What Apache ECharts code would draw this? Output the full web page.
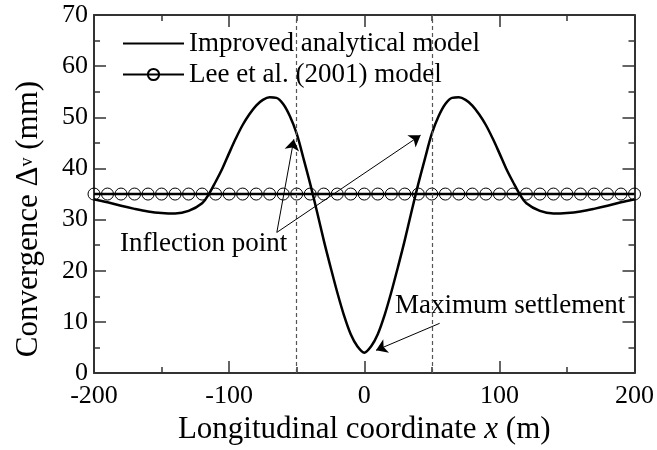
<!DOCTYPE html>
<html>
<head>
<meta charset="utf-8">
<script src="https://cdn.jsdelivr.net/npm/echarts@6/dist/echarts.min.js"></script>
<style>
html,body{margin:0;padding:0;background:#fff;}
#chart{width:657px;height:450px;}
</style>
</head>
<body>
<div id="chart"></div>
<script>
// ---- data ----
const xImproved = [-200,-190,-180,-170,-160,-150,-140,-130,-120,-115,-110,-105,-100,-95,-90,-85,-80,-75,-70,-65,-60,-55,-50,-45,-40,-35,-30,-25,-20,-15,-10,-5,0,
  5,10,15,20,25,30,35,40,45,50,55,60,65,70,75,80,85,90,95,100,105,110,115,120,130,140,150,160,170,180,190,200];
const yImproved = [34.0,33.4,32.7,32.1,31.6,31.3,31.2,31.7,33.2,35.0,37.4,40.0,43.0,45.9,48.5,50.6,52.3,53.4,53.9,53.8,52.6,50.2,46.8,42.0,37.0,31.6,26.0,20.8,15.8,11.3,7.6,5.2,4.0,
  5.2,7.6,11.3,15.8,20.8,26.0,31.6,37.0,42.0,46.8,50.2,52.6,53.8,53.9,53.4,52.3,50.6,48.5,45.9,43.0,40.0,37.4,35.0,33.2,31.7,31.2,31.3,31.6,32.1,32.7,33.4,34.0];
const xLee = [-200,-190,-180,-170,-160,-150,-140,-130,-120,-110,-100,-90,-80,-70,-60,-50,-40,-30,-20,-10,0,
  10,20,30,40,50,60,70,80,90,100,110,120,130,140,150,160,170,180,190,200];
const yLee = [35,35,35,35,35,35,35,35,35,35,35,35,35,35,35,35,35,35,35,35,35,
  35,35,35,35,35,35,35,35,35,35,35,35,35,35,35,35,35,35,35,35];
const seriesNames = ['Improved analytical model', 'Lee et al. (2001) model'];
const xTicks = {min: -200, max: 200, interval: 100};
const yTicks = {min: 0, max: 70, interval: 10};
const inflectionX = [-50, 50];

const FONT = '"Liberation Serif","Times New Roman",Times,serif';
const AX = '#333';

function pairs(xs, ys){ return xs.map((x,i)=>[x, ys[i]]); }

function xAx(pos, showLabel){
  return {
    type: 'value', position: pos, min: xTicks.min, max: xTicks.max, interval: xTicks.interval,
    axisLine: {show: true, onZero: false, lineStyle: {color: AX, width: 2}},
    axisTick: {show: true, inside: true, length: 12, lineStyle: {color: AX, width: 1.5}},
    minorTick: {show: true, splitNumber: 2, length: 6, lineStyle: {color: AX, width: 1.5}},
    splitLine: {show: false}, minorSplitLine: {show: false},
    axisLabel: {show: showLabel, fontSize: 26, fontFamily: FONT, color: '#000', margin: 10},
    name: showLabel ? '{a|Longitudinal coordinate }{i|x}{a| (m)}' : '',
    nameLocation: 'middle', nameGap: 39,
    nameTextStyle: {rich: {
      a: {fontSize: 31, fontFamily: FONT, color: '#000'},
      i: {fontSize: 31, fontFamily: FONT, color: '#000', fontStyle: 'italic'}
    }}
  };
}
function yAx(pos, showLabel){
  return {
    type: 'value', position: pos, min: yTicks.min, max: yTicks.max, interval: yTicks.interval,
    axisLine: {show: true, onZero: false, lineStyle: {color: AX, width: 2}},
    axisTick: {show: true, inside: true, length: 12, lineStyle: {color: AX, width: 1.5}},
    minorTick: {show: true, splitNumber: 2, length: 6, lineStyle: {color: AX, width: 1.5}},
    splitLine: {show: false}, minorSplitLine: {show: false},
    axisLabel: {show: showLabel, fontSize: 26, fontFamily: FONT, color: '#000', margin: 6,
      padding: [4, 0, 0, 0]}
  };
}

const chart = echarts.init(document.getElementById('chart'), null, {renderer: 'canvas'});
const dashStyle = {color: '#555', width: 1.2, type: [4, 3]};
const arrowStyle = {color: '#000', width: 1, type: 'solid'};
chart.setOption({
  animation: false,
  backgroundColor: '#fff',
  grid: {left: 94, right: 22, top: 15, bottom: 73},
  xAxis: [xAx('bottom', true), xAx('top', false)],
  yAxis: [yAx('left', true), yAx('right', false)],
  legend: {
    left: 122, top: 30, orient: 'vertical', padding: 0,
    itemWidth: 61, itemHeight: 14, itemGap: 4,
    textStyle: {fontSize: 27, fontFamily: FONT, color: '#000', lineHeight: 27},
    data: [
      {name: seriesNames[0], itemStyle: {color: 'rgba(0,0,0,0)', borderWidth: 0, opacity: 0}},
      {name: seriesNames[1]}
    ]
  },
  series: [
    {
      name: seriesNames[0], type: 'line', smooth: 0.35, symbol: 'none',
      lineStyle: {color: '#000', width: 2.5}, itemStyle: {color: '#000'},
      data: pairs(xImproved, yImproved), z: 3
    },
    {
      name: seriesNames[1], type: 'line', symbol: 'circle', symbolSize: 12,
      lineStyle: {color: '#000', width: 2.5},
      itemStyle: {color: 'rgba(255,255,255,0)', borderColor: '#000', borderWidth: 1},
      data: pairs(xLee, yLee), z: 2,
      markLine: {
        silent: true, animation: false,
        symbol: ['none', 'none'],
        label: {show: false},
        data: [
          {xAxis: inflectionX[0], lineStyle: dashStyle},
          {xAxis: inflectionX[1], lineStyle: dashStyle},
          [{coord: [-64.7, 27.5], symbol: 'none', lineStyle: arrowStyle},
           {coord: [-52.1, 45.7], symbol: 'arrow', symbolSize: 11}],
          [{coord: [-64.7, 27.5], symbol: 'none', lineStyle: arrowStyle},
           {coord: [41.7, 46.5], symbol: 'arrow', symbolSize: 11}],
          [{coord: [55.8, 9.73], symbol: 'none', lineStyle: arrowStyle},
           {coord: [8.7, 4.45], symbol: 'arrow', symbolSize: 11}]
        ]
      }
    }
  ],
  graphic: [
    {type: 'text', x: 29, y: 219, rotation: Math.PI / 2, silent: true,
     style: {text: '{a|Convergence Δ}{s|v}{a| (mm)}', align: 'center', verticalAlign: 'middle',
       rich: {a: {fontSize: 31, fontFamily: FONT, fill: '#000'}, s: {fontSize: 18, fontFamily: FONT, fill: '#000', padding: [0,0,4,0]}}}},
    {type: 'text', x: 120, y: 244, silent: true,
     style: {text: 'Inflection point', fontSize: 27, fontFamily: FONT, fill: '#000', align: 'left', verticalAlign: 'middle'}},
    {type: 'text', x: 395, y: 306, silent: true,
     style: {text: 'Maximum settlement', fontSize: 27, fontFamily: FONT, fill: '#000', align: 'left', verticalAlign: 'middle'}}
  ]
});
</script>
</body>
</html>
